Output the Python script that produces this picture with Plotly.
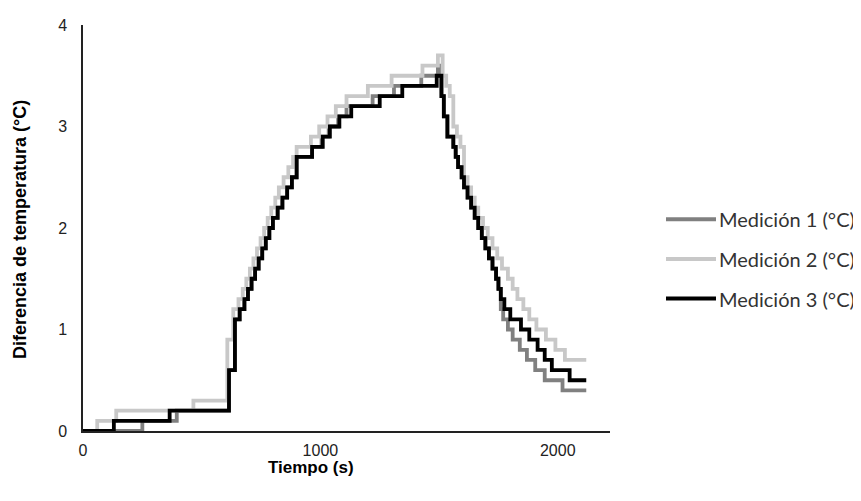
import plotly.graph_objects as go

# ---- data (change points of step series) ----
t1 = [0, 250, 395, 615, 640, 660, 680, 695, 710, 725, 740, 755, 770, 785, 800, 820, 840, 860, 880, 900, 965, 1005, 1035, 1075, 1110, 1220, 1310, 1425, 1495, 1510, 1520, 1535, 1560, 1570, 1580, 1595, 1605, 1620, 1635, 1650, 1665, 1680, 1695, 1710, 1725, 1740, 1750, 1760, 1770, 1790, 1810, 1840, 1870, 1905, 1945, 2020, 2120]
v1 = [0, 0.1, 0.2, 0.6, 1.1, 1.2, 1.3, 1.4, 1.5, 1.6, 1.7, 1.8, 1.9, 2.0, 2.1, 2.2, 2.3, 2.4, 2.5, 2.7, 2.8, 2.9, 3.0, 3.1, 3.2, 3.3, 3.4, 3.5, 3.6, 3.3, 3.1, 2.9, 2.8, 2.7, 2.6, 2.5, 2.4, 2.3, 2.2, 2.1, 2.0, 1.9, 1.8, 1.7, 1.6, 1.5, 1.4, 1.2, 1.1, 1.0, 0.9, 0.8, 0.7, 0.6, 0.5, 0.4, 0.4]

t2 = [0, 60, 140, 465, 608, 633, 655, 673, 688, 703, 718, 733, 748, 763, 778, 793, 810, 825, 845, 865, 885, 900, 960, 995, 1030, 1065, 1110, 1200, 1300, 1430, 1495, 1515, 1530, 1545, 1560, 1575, 1590, 1605, 1620, 1635, 1650, 1665, 1685, 1705, 1725, 1745, 1765, 1790, 1810, 1830, 1855, 1880, 1910, 1950, 1990, 2030, 2120]
v2 = [0, 0.1, 0.2, 0.3, 0.9, 1.2, 1.3, 1.4, 1.5, 1.6, 1.7, 1.8, 1.9, 2.0, 2.1, 2.2, 2.3, 2.4, 2.5, 2.6, 2.7, 2.8, 2.9, 3.0, 3.1, 3.2, 3.3, 3.4, 3.5, 3.6, 3.7, 3.5, 3.4, 3.3, 3.0, 2.9, 2.8, 2.5, 2.4, 2.3, 2.2, 2.1, 2.0, 1.9, 1.8, 1.7, 1.6, 1.5, 1.4, 1.3, 1.2, 1.1, 1.0, 0.9, 0.8, 0.7, 0.7]

t3 = [0, 130, 365, 615, 640, 660, 680, 695, 710, 725, 740, 755, 770, 785, 800, 820, 840, 860, 880, 900, 965, 1010, 1040, 1080, 1130, 1250, 1345, 1490, 1510, 1520, 1535, 1560, 1570, 1580, 1595, 1605, 1620, 1635, 1650, 1665, 1680, 1695, 1710, 1725, 1740, 1750, 1760, 1775, 1800, 1845, 1880, 1915, 1945, 1975, 2050, 2120]
v3 = [0, 0.1, 0.2, 0.6, 1.1, 1.2, 1.3, 1.4, 1.5, 1.6, 1.7, 1.8, 1.9, 2.0, 2.1, 2.2, 2.3, 2.4, 2.5, 2.7, 2.8, 2.9, 3.0, 3.1, 3.2, 3.3, 3.4, 3.5, 3.3, 3.1, 2.9, 2.8, 2.7, 2.6, 2.5, 2.4, 2.3, 2.2, 2.1, 2.0, 1.9, 1.8, 1.7, 1.6, 1.5, 1.4, 1.3, 1.2, 1.1, 1.0, 0.9, 0.8, 0.7, 0.6, 0.5, 0.5]

names = ["Medición 1 (°C)", "Medición 2 (°C)", "Medición 3 (°C)"]
colors = ["#808080", "#c8c8c8", "#000000"]
x_ticks = [0, 1000, 2000]
y_ticks = [0, 1, 2, 3, 4]

fig = go.Figure()
for t, v, n, c in zip([t1, t2, t3], [v1, v2, v3], names, colors):
    fig.add_trace(go.Scatter(x=t, y=v, name=n, mode="lines",
                             line=dict(color=c, width=3.8, shape="hv"),
                             showlegend=False))

OFF = 8  # page body margin
W, H = 861 - OFF, 501 - OFF
# target page coordinates of plot area
PL, PR, PT, PB = 83, 610, 17, 431
L, T = PL - OFF, PT - OFF
R = W - (PR - OFF)
B = H - (PB - OFF)
pw = W - L - R
ph = H - T - B

def px(xp):
    return (xp - OFF - L) / pw

def py(yp):
    return (H - B - (yp - OFF)) / ph

# manual legend
for i, (n, c) in enumerate(zip(names, colors)):
    yy = py(215 + i * 40.5)
    fig.add_shape(type="line", xref="paper", yref="paper",
                  x0=px(666), x1=px(716), y0=yy, y1=yy,
                  line=dict(color=c, width=4))
    fig.add_annotation(xref="paper", yref="paper", x=px(717), y=yy,
                       text=n, showarrow=False, xanchor="left", yanchor="middle",
                       font=dict(family="Lato", size=20, color="#333333"))

fig.add_annotation(xref="paper", yref="paper", x=px(311), y=py(468),
                   text="<b>Tiempo (s)</b>", showarrow=False,
                   xanchor="center", yanchor="middle",
                   font=dict(family="Liberation Sans, Arial", size=17, color="#000"))
fig.add_annotation(xref="paper", yref="paper", x=px(20), y=py(226),
                   text="<b>Diferencia de temperatura (°C)</b>", showarrow=False,
                   textangle=-90, xanchor="center", yanchor="middle",
                   font=dict(family="Liberation Sans, Arial", size=18, color="#000"))

fig.update_layout(
    width=W, height=H,
    margin=dict(l=L, r=R, t=T, b=B),
    paper_bgcolor="white", plot_bgcolor="white",
    font=dict(family="Liberation Sans, Arial", size=16, color="#222"),
    xaxis=dict(range=[0, 2220], tickvals=x_ticks, showgrid=False, zeroline=False,
               showline=True, linecolor="#222", linewidth=1.5, ticks="outside",
               ticklen=4, tickcolor="rgba(0,0,0,0)", ticklabeloverflow="allow"),
    yaxis=dict(range=[0, 4], tickvals=y_ticks, showgrid=False, zeroline=False,
               showline=True, linecolor="#222", linewidth=1.5, ticks="outside",
               ticklen=11, tickcolor="rgba(0,0,0,0)", ticklabeloverflow="allow"),
)

fig.write_html("out.html")
